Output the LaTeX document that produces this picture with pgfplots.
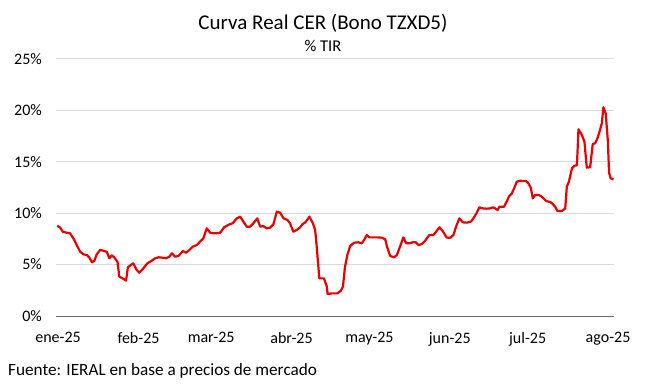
\documentclass[border=0pt]{standalone}
\usepackage{fontspec}
\setmainfont{Carlito}
\usepackage{pgfplots}
\pgfplotsset{compat=1.18}
\definecolor{linered}{RGB}{230,0,0}
\definecolor{gridgray}{RGB}{217,217,217}
\definecolor{axgray}{RGB}{100,100,100}
\begin{document}
\begin{tikzpicture}[x=1bp,y=1bp]
\useasboundingbox (0,0) rectangle (649,385);
\begin{axis}[
  at={(56bp,69bp)}, anchor=south west,
  scale only axis, width=558bp, height=257bp,
  xmin=-0.8, xmax=214.3, ymin=0, ymax=25,
  axis x line*=bottom, axis y line*=left,
  x axis line style={-, draw=axgray, line width=1bp},
  y axis line style={draw=none},
  major tick length=0pt,
  ymajorgrids, grid style={gridgray, line width=1bp},
  ytick={0,5,10,15,20,25},
  yticklabels={0\%,5\%,10\%,15\%,20\%,25\%},
  xtick={0,31,59,90,120,151,181,212},
  xticklabels={ene-25,feb-25,mar-25,abr-25,may-25,jun-25,jul-25,ago-25},
  tick label style={font=\fontsize{16bp}{18bp}\selectfont, text=black},
  yticklabel style={anchor=east, inner sep=0pt, xshift=-14bp},
  xticklabel style={anchor=north, inner sep=0pt, yshift=-16bp},
  clip=false,
]
\addplot[linered, line width=2.2bp, line join=round] coordinates {
(-0.3,8.78) (0.8,8.6) (1.8,8.2) (3.3,8.1) (4.6,8.05) (5.9,7.55) (7.2,6.9) (8.5,6.25) (9.8,6.0) (11.1,5.93)
(12.1,5.67) (13.1,5.22) (14.0,5.38) (14.9,6.0) (16.2,6.42) (17.5,6.35) (18.8,6.23) (19.8,5.61) (20.7,5.9) (21.6,5.71)
(22.9,5.28) (23.6,3.83) (24.9,3.66) (26.2,3.44) (26.9,4.73) (28.0,4.96) (29.0,5.12) (30.3,4.47) (31.3,4.21) (32.9,4.64)
(34.4,5.12) (36.1,5.38) (37.4,5.61) (38.7,5.71) (40.4,5.67) (41.6,5.61) (42.9,5.77) (43.9,6.1) (45.1,5.77) (46.4,5.84)
(48.1,6.32) (49.3,6.16) (50.6,6.42) (51.9,6.74) (53.5,6.9) (54.7,7.23) (56.0,7.55) (57.3,8.53) (58.6,8.1) (60.5,8.04)
(62.5,8.1) (64.0,8.63) (66.1,8.92) (67.3,9.02) (68.9,9.5) (70.2,9.66) (71.2,9.27) (72.7,8.69) (74.0,8.69) (75.3,9.02)
(76.8,9.5) (77.9,8.69) (79.1,8.75) (80.4,8.53) (81.7,8.59) (83.0,8.92) (84.3,10.15) (85.6,10.05) (86.9,9.5) (88.4,9.34)
(89.4,9.02) (90.7,8.2) (92.0,8.37) (93.3,8.63) (94.3,8.95) (95.2,9.08) (96.9,9.66) (98.2,9.02) (99.1,8.37) (99.7,6.74)
(100.7,3.66) (102.5,3.66) (103.6,2.85) (103.9,2.14) (105.5,2.2) (107.7,2.2) (109.0,2.46) (109.8,2.85) (110.6,4.8) (111.5,5.93)
(112.6,6.81) (114.1,7.13) (115.8,7.17) (117.1,7.07) (118.1,7.46) (119.0,7.88) (120.0,7.65) (122.9,7.65) (124.8,7.62) (126.1,7.46)
(127.0,6.58) (128.0,5.84) (129.5,5.71) (130.6,5.93) (131.8,6.74) (133.1,7.65) (134.2,7.07) (135.4,7.07) (136.7,7.17) (137.9,7.17)
(138.9,6.9) (140.2,7.0) (141.5,7.33) (143.1,7.88) (144.7,7.88) (145.7,8.2) (147.0,8.63) (148.3,8.25) (149.8,7.63) (151.1,7.6)
(152.4,7.88) (153.4,8.69) (154.7,9.5) (156.0,9.11) (157.6,9.08) (159.1,9.18) (160.1,9.5) (161.4,10.05) (162.4,10.57) (163.7,10.47)
(165.3,10.44) (166.5,10.47) (167.6,10.57) (168.5,10.47) (169.4,10.31) (170.1,10.63) (171.9,10.63) (172.9,11.12) (173.9,11.67) (174.8,11.87)
(175.8,12.42) (176.8,13.06) (178.1,13.16) (179.4,13.13) (180.4,13.13) (181.3,12.9) (182.2,12.48) (183.0,11.45) (183.9,11.77) (185.2,11.77)
(186.1,11.67) (187.1,11.45) (188.1,11.19) (189.7,11.09) (190.7,10.89) (191.6,10.63) (192.5,10.21) (194.2,10.21) (195.5,10.47) (196.1,12.58)
(196.9,13.06) (198.1,14.37) (199.1,14.62) (200.0,14.66) (200.6,18.16) (201.9,17.61) (202.9,16.96) (203.8,14.43) (205.1,14.47) (206.1,16.73)
(207.0,16.8) (207.9,17.28) (208.9,18.09) (209.6,18.74) (210.2,20.3) (211.1,19.71) (211.9,17.12) (212.4,13.94) (213.0,13.39) (214.1,13.3)
};
\end{axis}
\node[font=\fontsize{21bp}{24bp}\selectfont] at (323,362) {Curva Real CER (Bono TZXD5)};
\node[font=\fontsize{16.5bp}{18bp}\selectfont] at (323,339) {\% TIR};
\node[anchor=west, inner sep=0pt, font=\fontsize{17.2bp}{19bp}\selectfont] at (8,14) {Fuente: IERAL en base a precios de mercado};
\end{tikzpicture}
\end{document}
